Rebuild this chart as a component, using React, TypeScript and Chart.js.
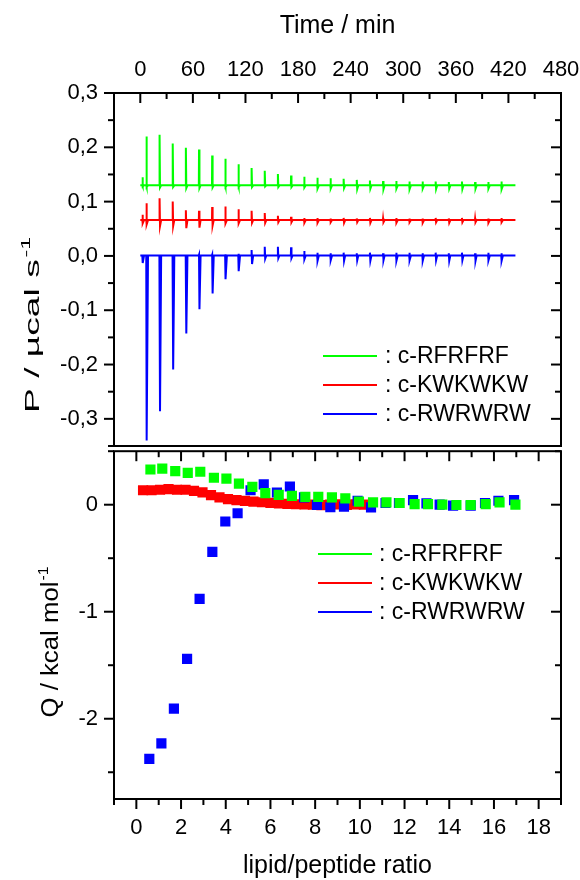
import React, { useEffect, useRef } from 'react';
import { Chart, registerables } from 'chart.js';

Chart.register(...registerables);

const FONT = '"Liberation Sans", Arial, Helvetica, sans-serif';

// ---------- Series names / colours ----------
const SERIES_LABELS = ['c-RFRFRF', 'c-KWKWKW', 'c-RWRWRW'];
const SERIES_COLORS = ['#00ff00', '#ff0000', '#0000ff'];

// ---------- Top panel: thermogram (time / min vs P / µcal s-1) ----------
const INJECTION_TIMES = [2.5, 7, 22, 37, 52, 67, 82, 97, 112, 127, 142, 157, 172, 187, 202, 217, 232, 247, 262, 277, 292, 307, 322, 337, 352, 367, 382, 397, 412];
const TRACE_START = 0;
const TRACE_END = 428;

const RF_BASE = 0.13;
const RF_HIGH = [0.145, 0.22, 0.223, 0.207, 0.199, 0.196, 0.185, 0.179, 0.169, 0.162, 0.157, 0.151, 0.148, 0.146, 0.144, 0.143, 0.142, 0.14, 0.139, 0.138, 0.138, 0.137, 0.137, 0.137, 0.136, 0.137, 0.136, 0.136, 0.137];
const RF_LOW = [0.128, 0.127, 0.126, 0.127, 0.125, 0.125, 0.126, 0.127, 0.127, 0.127, 0.128, 0.127, 0.127, 0.126, 0.124, 0.124, 0.125, 0.123, 0.124, 0.123, 0.124, 0.123, 0.124, 0.123, 0.124, 0.123, 0.124, 0.124, 0.123];

const KW_BASE = 0.066;
const KW_HIGH = [0.076, 0.097, 0.106, 0.1, 0.084, 0.083, 0.09, 0.091, 0.086, 0.083, 0.079, 0.074, 0.072, 0.07, 0.07, 0.069, 0.07, 0.069, 0.07, 0.069, 0.07, 0.069, 0.069, 0.07, 0.069, 0.07, 0.069, 0.069, 0.07];
const KW_LOW = [0.06, 0.058, 0.055, 0.055, 0.051, 0.052, 0.056, 0.06, 0.06, 0.061, 0.061, 0.062, 0.062, 0.061, 0.061, 0.062, 0.061, 0.062, 0.061, 0.062, 0.061, 0.062, 0.061, 0.062, 0.061, 0.062, 0.062, 0.061, 0.062];

const RW_BASE = 0.001;
const RW_HIGH = [0.001, 0.001, 0.001, 0.001, 0.001, 0.002, 0.002, 0.003, 0.004, 0.011, 0.017, 0.017, 0.016, 0.009, 0.006, 0.005, 0.006, 0.005, 0.006, 0.005, 0.006, 0.006, 0.005, 0.006, 0.005, 0.006, 0.005, 0.006, 0.005];
const RW_LOW = [-0.013, -0.34, -0.286, -0.209, -0.143, -0.098, -0.069, -0.043, -0.028, -0.015, -0.005, -0.004, -0.004, -0.006, -0.009, -0.008, -0.009, -0.008, -0.009, -0.008, -0.009, -0.008, -0.009, -0.008, -0.009, -0.008, -0.009, -0.008, -0.009];

// ---------- Bottom panel: integrated heats (lipid/peptide ratio vs Q / kcal mol-1) ----------
const RF_RATIO = [0.63, 1.16, 1.74, 2.3, 2.86, 3.47, 4.03, 4.59, 5.19, 5.77, 6.37, 6.96, 7.56, 8.14, 8.75, 9.35, 9.96, 10.59, 11.19, 11.78, 12.45, 13.05, 13.69, 14.32, 14.96, 15.63, 16.25, 16.96];
const RF_Q = [0.329, 0.338, 0.313, 0.298, 0.308, 0.252, 0.243, 0.197, 0.166, 0.108, 0.092, 0.083, 0.074, 0.074, 0.068, 0.059, 0.028, 0.022, 0.022, 0.016, 0.006, 0.006, 0.0, -0.003, -0.003, 0.006, 0.022, 0.0];

const KW_RATIO = [0.3, 0.68, 1.06, 1.44, 1.82, 2.2, 2.58, 2.96, 3.34, 3.72, 4.1, 4.48, 4.86, 5.24, 5.62, 6.0, 6.38, 6.76, 7.14, 7.52, 7.9, 8.28, 8.66, 9.04, 9.42, 9.8, 10.18];
const KW_Q = [0.135, 0.135, 0.14, 0.145, 0.14, 0.14, 0.13, 0.115, 0.09, 0.068, 0.052, 0.042, 0.035, 0.029, 0.023, 0.017, 0.011, 0.007, 0.004, 0.003, 0.0, -0.004, 0.0, 0.003, -0.002, 0.003, 0.0];

const RW_RATIO = [0.58, 1.12, 1.68, 2.27, 2.83, 3.4, 3.98, 4.53, 5.11, 5.7, 6.29, 6.87, 7.5, 8.08, 8.68, 9.29, 9.9, 10.5, 11.15, 11.75, 12.38, 12.98, 13.57, 14.17, 14.96, 15.6, 16.2, 16.9];
const RW_Q = [-2.375, -2.23, -1.905, -1.44, -0.88, -0.44, -0.157, -0.08, 0.135, 0.19, 0.114, 0.17, 0.068, -0.003, -0.024, -0.018, 0.037, -0.025, 0.016, 0.016, 0.043, 0.013, 0.0, -0.009, -0.009, 0.016, 0.037, 0.043];

// ---------- Axes ----------
const TIME_MIN = -30;
const TIME_MAX = 480;
const TIME_TICKS = [0, 60, 120, 180, 240, 300, 360, 420, 480];
const TIME_MINOR = 30;
const P_MIN = -0.35;
const P_MAX = 0.3;
const P_TICKS = [-0.3, -0.2, -0.1, 0, 0.1, 0.2, 0.3];
const P_MINOR = 0.05;
const RATIO_MIN = -1;
const RATIO_MAX = 19;
const RATIO_TICKS = [0, 2, 4, 6, 8, 10, 12, 14, 16, 18];
const RATIO_MINOR = 1;
const Q_MIN = -2.75;
const Q_MAX = 0.5;
const Q_TICKS = [-2, -1, 0];
const Q_MINOR = 0.5;

function buildTrace(base: number, high: number[], low: number[]) {
  const pts: { x: number; y: number }[] = [{ x: TRACE_START, y: base }];
  INJECTION_TIMES.forEach((t, i) => {
    pts.push({ x: t - 0.2, y: base });
    pts.push({ x: t, y: high[i] });
    pts.push({ x: t + 0.5, y: low[i] });
    pts.push({ x: t + 1.8, y: base });
  });
  pts.push({ x: TRACE_END, y: base });
  return pts;
}

function zip(xs: number[], ys: number[]) {
  return xs.map((x, i) => ({ x, y: ys[i] }));
}

function tickSets(scale: any, minorStep: number) {
  const majors: number[] = scale.ticks.map((t: any) => t.value);
  const minors: number[] = [];
  const eps = minorStep * 1e-3;
  const start = Math.ceil((scale.min - eps) / minorStep);
  for (let k = start; k * minorStep <= scale.max + eps; k++) {
    const v = k * minorStep;
    if (!majors.some((m) => Math.abs(m - v) < eps)) minors.push(v);
  }
  return { majors, minors };
}

function drawTicks(ctx: CanvasRenderingContext2D, scale: any, minorStep: number, vertical: boolean, edge: number, dir: number) {
  const { majors, minors } = tickSets(scale, minorStep);
  const draw = (v: number, len: number) => {
    const p = scale.getPixelForValue(v);
    ctx.beginPath();
    if (vertical) {
      ctx.moveTo(edge, p);
      ctx.lineTo(edge + dir * len, p);
    } else {
      ctx.moveTo(p, edge);
      ctx.lineTo(p, edge + dir * len);
    }
    ctx.stroke();
  };
  majors.forEach((v) => draw(v, 10));
  minors.forEach((v) => draw(v, 6));
}

function drawLegend(ctx: CanvasRenderingContext2D, x0: number, x1: number, textX: number, rows: number[]) {
  ctx.save();
  ctx.lineWidth = 2;
  ctx.font = `23px ${FONT}`;
  ctx.textBaseline = 'middle';
  ctx.textAlign = 'left';
  SERIES_LABELS.forEach((label, i) => {
    ctx.strokeStyle = SERIES_COLORS[i];
    ctx.beginPath();
    ctx.moveTo(x0, rows[i]);
    ctx.lineTo(x1, rows[i]);
    ctx.stroke();
    ctx.fillStyle = '#000';
    ctx.fillText(': ' + label, textX, rows[i] + 1);
  });
  ctx.restore();
}

// rotated axis title with a superscript, stretched along its length to targetLen
function drawRotatedTitle(ctx: CanvasRenderingContext2D, main: string, sup: string, baseX: number, centerY: number, size: number, targetLen: number) {
  ctx.save();
  ctx.fillStyle = '#000';
  ctx.textBaseline = 'alphabetic';
  ctx.textAlign = 'left';
  const supSize = Math.round(size * 0.62);
  ctx.font = `${size}px ${FONT}`;
  const wMain = ctx.measureText(main).width;
  ctx.font = `${supSize}px ${FONT}`;
  const wSup = ctx.measureText(sup).width;
  const natural = wMain + 1 + wSup;
  const stretch = targetLen / natural;
  ctx.translate(baseX, centerY);
  ctx.rotate(-Math.PI / 2);
  ctx.translate(-targetLen / 2, 0);
  ctx.scale(stretch, 1);
  ctx.font = `${size}px ${FONT}`;
  ctx.fillText(main, 0, 0);
  ctx.font = `${supSize}px ${FONT}`;
  ctx.fillText(sup, wMain + 1, -size * 0.45);
  ctx.restore();
}

function framePlugin(kind: 'top' | 'bottom') {
  return {
    id: 'frame-' + kind,
    afterDraw(chart: any) {
      const ctx: CanvasRenderingContext2D = chart.ctx;
      const a = chart.chartArea;
      ctx.save();
      ctx.strokeStyle = '#000';
      ctx.lineWidth = 2;
      ctx.lineCap = 'butt';
      ctx.strokeRect(a.left, a.top, a.right - a.left, a.bottom - a.top);
      const ys = chart.scales.y;
      const xs = chart.scales.x;
      if (kind === 'top') {
        drawTicks(ctx, ys, P_MINOR, true, a.left, -1);
        drawTicks(ctx, ys, P_MINOR, true, a.right, -1);
        drawTicks(ctx, xs, TIME_MINOR, false, a.top, 1);
      } else {
        drawTicks(ctx, ys, Q_MINOR, true, a.left, -1);
        drawTicks(ctx, ys, Q_MINOR, true, a.right, -1);
        drawTicks(ctx, xs, RATIO_MINOR, false, a.bottom, 1);
        drawTicks(ctx, xs, RATIO_MINOR, false, a.top, 1);
      }
      ctx.restore();

      ctx.save();
      ctx.fillStyle = '#000';
      ctx.font = `25px ${FONT}`;
      ctx.textAlign = 'center';
      ctx.textBaseline = 'middle';
      const cx = (a.left + a.right) / 2;
      if (kind === 'top') {
        ctx.fillText('Time / min', cx, 26);
        ctx.restore();
        drawRotatedTitle(ctx, 'P / µcal s', '-1', 39, 325, 21, 176);
        drawLegend(ctx, 323, 377, 385, [356, 385, 414]);
      } else {
        ctx.fillText('lipid/peptide ratio', cx, 422);
        ctx.restore();
        drawRotatedTitle(ctx, 'Q / kcal mol', '-1', 58, 198, 23, 151);
        drawLegend(ctx, 318, 372, 379, [110, 139, 168]);
      }
    },
  };
}

const tickFont = { family: FONT, size: 22 };

function fixY(width: number) {
  return (s: any) => {
    s.width = width;
    s.paddingTop = 0;
    s.paddingBottom = 0;
  };
}
function fixX(height: number) {
  return (s: any) => {
    s.height = height;
    s.paddingLeft = 0;
    s.paddingRight = 0;
  };
}
function setTicks(values: number[]) {
  return (s: any) => {
    s.ticks = values.map((v) => ({ value: v }));
  };
}

function topConfig(): any {
  const mk = (label: string, color: string, data: any[]) => ({
    label,
    data,
    showLine: true,
    borderColor: color,
    backgroundColor: color,
    borderWidth: 2,
    pointRadius: 0,
    tension: 0,
  });
  return {
    type: 'scatter',
    data: {
      datasets: [
        mk(SERIES_LABELS[0], SERIES_COLORS[0], buildTrace(RF_BASE, RF_HIGH, RF_LOW)),
        mk(SERIES_LABELS[1], SERIES_COLORS[1], buildTrace(KW_BASE, KW_HIGH, KW_LOW)),
        mk(SERIES_LABELS[2], SERIES_COLORS[2], buildTrace(RW_BASE, RW_HIGH, RW_LOW)),
      ],
    },
    options: {
      animation: false,
      responsive: false,
      maintainAspectRatio: false,
      devicePixelRatio: 1,
      layout: { padding: { left: 0, right: 19, top: 0, bottom: 2 } },
      plugins: { legend: { display: false }, tooltip: { enabled: false } },
      scales: {
        x: {
          type: 'linear',
          position: 'top',
          min: TIME_MIN,
          max: TIME_MAX,
          grid: { display: false, drawTicks: false },
          border: { display: false },
          ticks: { font: tickFont, color: '#000', padding: 10, maxRotation: 0, autoSkip: false },
          afterBuildTicks: setTicks(TIME_TICKS),
          afterFit: fixX(93),
        },
        y: {
          type: 'linear',
          min: P_MIN,
          max: P_MAX,
          grid: { display: false, drawTicks: false },
          border: { display: false },
          ticks: {
            font: tickFont,
            color: '#000',
            padding: 16,
            autoSkip: false,
            callback: (v: number) => (Math.abs(v) < 1e-9 ? 0 : v).toFixed(1).replace('.', ','),
          },
          afterBuildTicks: setTicks(P_TICKS),
          afterFit: fixY(114),
        },
      },
    },
    plugins: [framePlugin('top')],
  };
}

function bottomConfig(): any {
  const mk = (label: string, color: string, data: any[], order: number) => ({
    label,
    data,
    order,
    pointStyle: 'rect',
    pointRadius: 7.2,
    borderWidth: 0,
    backgroundColor: color,
    borderColor: color,
  });
  return {
    type: 'scatter',
    data: {
      datasets: [
        mk(SERIES_LABELS[0], SERIES_COLORS[0], zip(RF_RATIO, RF_Q), 0),
        mk(SERIES_LABELS[1], SERIES_COLORS[1], zip(KW_RATIO, KW_Q), 2),
        mk(SERIES_LABELS[2], SERIES_COLORS[2], zip(RW_RATIO, RW_Q), 1),
      ],
    },
    options: {
      animation: false,
      responsive: false,
      maintainAspectRatio: false,
      devicePixelRatio: 1,
      layout: { padding: { left: 0, right: 19, top: 2, bottom: 0 } },
      plugins: { legend: { display: false }, tooltip: { enabled: false } },
      scales: {
        x: {
          type: 'linear',
          position: 'bottom',
          min: RATIO_MIN,
          max: RATIO_MAX,
          grid: { display: false, drawTicks: false },
          border: { display: false },
          ticks: { font: tickFont, color: '#000', padding: 16, maxRotation: 0, autoSkip: false },
          afterBuildTicks: setTicks(RATIO_TICKS),
          afterFit: fixX(81),
        },
        y: {
          type: 'linear',
          min: Q_MIN,
          max: Q_MAX,
          grid: { display: false, drawTicks: false },
          border: { display: false },
          ticks: {
            font: tickFont,
            color: '#000',
            padding: 16,
            autoSkip: false,
            callback: (v: number) => String(Math.abs(v) < 1e-9 ? 0 : Math.round(v)),
          },
          afterBuildTicks: setTicks(Q_TICKS),
          afterFit: fixY(114),
        },
      },
    },
    plugins: [framePlugin('bottom')],
  };
}

export default function App() {
  const topRef = useRef<HTMLCanvasElement>(null);
  const botRef = useRef<HTMLCanvasElement>(null);
  useEffect(() => {
    const top = new Chart(topRef.current as HTMLCanvasElement, topConfig());
    const bot = new Chart(botRef.current as HTMLCanvasElement, bottomConfig());
    return () => {
      top.destroy();
      bot.destroy();
    };
  }, []);
  return (
    <div style={{ position: 'absolute', left: 0, top: 0, width: 580, height: 880, background: '#fff' }}>
      <canvas ref={topRef} width={580} height={448} style={{ position: 'absolute', left: 0, top: 0, width: 580, height: 448 }} />
      <canvas ref={botRef} width={580} height={436} style={{ position: 'absolute', left: 0, top: 444, width: 580, height: 436 }} />
    </div>
  );
}
